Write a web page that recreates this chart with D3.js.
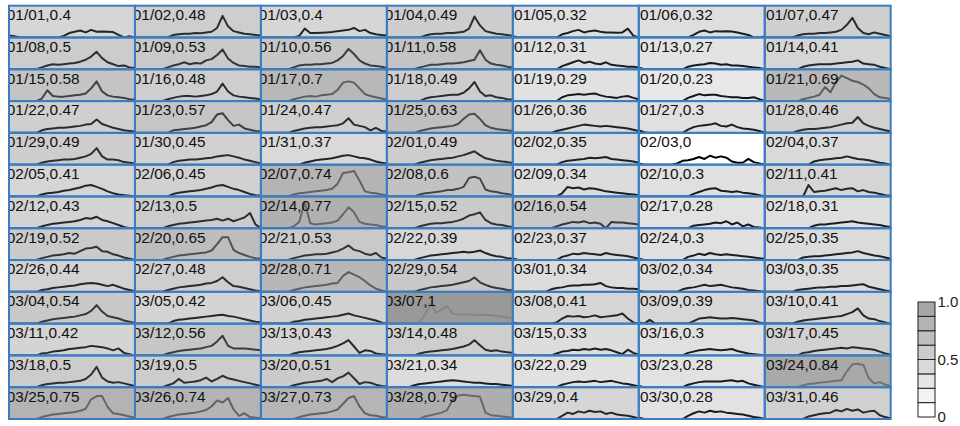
<!DOCTYPE html>
<html>
<head>
<meta charset="utf-8">
<script src="https://cdn.jsdelivr.net/npm/d3@7"></script>
<style>
  body { margin: 0; background: #fff; }
  svg { display: block; }
  text { font-family: "Liberation Sans", Arial, sans-serif; }
</style>
</head>
<body>
<div id="container"></div>
<script>
/* Daily load calendar: 91 small multiples */

var w = 960, h = 426;

var days = [
	"01/01","01/02","01/03","01/04","01/05","01/06","01/07",
	"01/08","01/09","01/10","01/11","01/12","01/13","01/14",
	"01/15","01/16","01/17","01/18","01/19","01/20","01/21",
	"01/22","01/23","01/24","01/25","01/26","01/27","01/28",
	"01/29","01/30","01/31","02/01","02/02","02/03","02/04",
	"02/05","02/06","02/07","02/08","02/09","02/10","02/11",
	"02/12","02/13","02/14","02/15","02/16","02/17","02/18",
	"02/19","02/20","02/21","02/22","02/23","02/24","02/25",
	"02/26","02/27","02/28","02/29","03/01","03/02","03/03",
	"03/04","03/05","03/06","03/07","03/08","03/09","03/10",
	"03/11","03/12","03/13","03/14","03/15","03/16","03/17",
	"03/18","03/19","03/20","03/21","03/22","03/23","03/24",
	"03/25","03/26","03/27","03/28","03/29","03/30","03/31"
];

var dayValues = [
	0.4, 0.48, 0.4, 0.49, 0.32, 0.32, 0.47,
	0.5, 0.53, 0.56, 0.58, 0.31, 0.27, 0.41,
	0.58, 0.48, 0.7, 0.49, 0.29, 0.23, 0.69,
	0.47, 0.57, 0.47, 0.63, 0.36, 0.3, 0.46,
	0.49, 0.45, 0.37, 0.49, 0.35, 0, 0.37,
	0.41, 0.45, 0.74, 0.6, 0.34, 0.3, 0.41,
	0.43, 0.5, 0.77, 0.52, 0.54, 0.28, 0.31,
	0.52, 0.65, 0.53, 0.39, 0.37, 0.3, 0.35,
	0.44, 0.48, 0.71, 0.54, 0.34, 0.34, 0.35,
	0.54, 0.42, 0.45, 1, 0.41, 0.39, 0.41,
	0.42, 0.56, 0.43, 0.48, 0.33, 0.3, 0.45,
	0.5, 0.5, 0.51, 0.34, 0.29, 0.28, 0.84,
	0.75, 0.74, 0.73, 0.79, 0.4, 0.28, 0.46
];

// hourly load per day, % of max (24 readings)
var janProfiles = [
	[6,4,0,0,0,0,0,0,0,0,5,14,18,22,16,24,18,19,18,17,8,0,4,0],
	[0,0,0,0,0,0,0,8,10,12,12,14,13,16,18,30,68,35,20,16,12,10,8,6],
	[0,0,0,0,0,0,0,5,28,14,14,15,16,17,20,22,24,30,20,24,14,10,8,6],
	[0,0,0,0,0,0,0,6,10,12,12,14,14,16,18,28,66,38,20,16,12,10,8,5],
	[4,0,0,0,0,0,0,0,0,10,14,20,24,16,20,22,18,16,16,15,16,28,6,0],
	[0,0,0,0,0,0,0,0,0,0,8,18,22,16,20,19,20,19,16,12,8,0,0,3],
	[0,0,0,0,0,0,6,10,12,12,14,14,16,18,24,40,62,30,14,10,16,12,8,4],
	[0,0,0,0,0,0,6,12,16,14,16,18,20,24,30,40,55,35,22,16,10,12,6,4],
	[0,0,0,0,0,0,6,12,16,22,16,20,18,28,32,45,62,34,20,12,10,8,8,6],
	[0,0,0,0,0,0,6,12,14,14,16,16,18,20,28,42,64,48,28,18,12,10,8,4],
	[0,0,0,0,0,0,6,10,14,14,16,18,18,20,22,26,30,60,30,18,14,12,8,5],
	[0,0,0,0,0,0,0,0,0,10,16,22,28,20,24,18,16,22,14,12,10,8,8,6],
	[5,0,0,0,0,0,0,0,0,8,12,14,16,20,18,14,16,12,12,10,8,6,4,0],
	[0,0,0,0,0,0,0,8,12,14,16,16,16,18,20,22,24,28,18,16,14,8,4,0],
	[0,0,0,0,0,0,8,34,16,14,14,16,18,20,24,40,62,30,18,14,12,10,6,4],
	[0,0,0,0,0,0,6,10,14,16,16,14,16,18,22,30,55,30,18,14,12,10,8,5],
	[0,0,0,0,0,0,6,10,14,16,14,18,20,22,35,58,62,58,40,22,16,12,8,4],
	[0,0,0,0,0,0,0,8,12,14,16,18,20,20,26,40,60,30,16,18,12,10,6,4],
	[0,0,0,0,0,0,0,0,0,12,18,20,22,20,22,24,18,14,12,10,14,16,10,6],
	[0,0,0,0,0,0,0,0,0,10,16,22,18,20,20,16,14,12,12,10,10,12,6,0],
	[0,0,0,0,0,0,0,6,10,14,20,44,28,60,80,72,64,60,52,40,22,12,10,6],
	[0,0,0,0,0,0,8,12,14,16,16,18,20,22,26,28,42,28,22,16,12,8,6,4],
	[0,0,0,0,0,0,0,8,10,12,14,16,20,24,34,58,62,40,22,26,14,10,6,4],
	[0,0,0,0,0,0,6,10,14,16,18,18,20,22,24,30,46,26,22,18,8,16,6,4],
	[0,0,0,0,0,0,6,10,14,16,18,20,22,28,44,58,60,44,24,16,12,10,8,6],
	[0,0,0,0,0,0,0,0,6,10,14,18,22,26,24,22,20,22,20,18,16,14,10,6],
	[8,2,0,0,0,0,0,0,0,10,18,22,24,26,30,22,20,26,18,14,12,10,6,0],
	[0,0,0,0,0,0,6,10,12,12,14,16,18,22,26,30,32,50,30,22,16,12,8,4],
	[0,0,0,0,0,0,6,10,12,14,16,16,18,22,26,34,52,26,16,16,14,8,6,4],
	[0,0,0,0,0,0,0,8,12,14,16,16,18,20,22,26,28,30,26,22,16,12,8,4],
	[0,0,0,0,0,0,0,0,6,10,14,16,18,20,24,28,30,26,22,20,16,10,6,4]
];

var febProfiles = [
	[0,0,0,0,0,0,6,10,14,16,18,20,22,26,30,36,42,30,20,16,12,10,8,5],
	[0,0,0,0,0,0,0,0,0,8,12,14,16,18,22,20,22,24,18,16,14,12,10,6],
	[4,0,0,0,0,0,0,4,12,14,18,24,18,28,22,26,22,10,6,6,18,8,4,0],
	[0,0,0,0,0,0,0,0,0,10,14,16,18,20,22,26,22,18,16,14,10,6,4,0],
	[0,0,0,0,0,0,6,10,12,14,18,20,24,28,34,36,30,24,16,10,6,4,2,0],
	[0,0,0,0,0,0,0,8,12,14,16,18,20,24,28,34,36,30,24,20,14,8,4,2],
	[0,0,0,0,0,0,6,10,12,14,16,18,20,24,40,74,76,80,50,16,12,10,6,4],
	[0,0,0,0,0,0,6,10,12,14,16,20,20,24,30,58,62,56,22,16,14,10,8,4],
	[0,0,0,0,0,0,0,0,0,10,30,26,28,22,26,24,20,16,14,12,10,8,6,4],
	[0,0,0,0,0,0,0,0,0,0,8,14,20,24,26,18,16,14,16,12,10,8,4,0],
	[0,0,0,0,0,0,0,0,36,14,16,18,22,26,20,24,26,16,20,14,12,8,4,2],
	[0,0,0,0,0,0,6,10,14,16,18,20,22,26,32,30,36,26,22,16,10,4,0,0],
	[0,0,0,0,0,0,6,10,14,16,18,20,22,24,26,30,24,30,22,28,34,48,12,0],
	[0,0,0,0,0,0,6,20,82,16,12,14,16,18,24,44,66,50,20,14,12,10,6,4],
	[0,0,0,0,0,0,6,10,14,16,16,18,20,24,30,40,44,50,26,16,12,10,6,4],
	[0,0,0,0,0,0,0,0,6,12,16,20,18,22,16,18,14,0,20,18,18,16,14,12],
	[0,0,0,0,0,0,0,0,0,0,8,10,12,14,18,16,22,12,18,6,12,4,2,0],
	[0,0,0,0,0,0,0,0,0,8,12,12,14,16,18,20,22,18,16,14,12,10,6,4],
	[0,0,0,0,0,0,6,10,14,16,18,22,20,28,36,38,42,28,26,18,14,8,4,0],
	[0,0,0,0,0,0,6,10,14,16,18,20,22,24,30,50,72,72,32,22,16,10,6,4],
	[0,0,0,0,0,0,6,10,14,16,18,18,20,24,28,36,46,32,28,20,16,22,8,4],
	[0,0,0,0,0,0,6,10,14,16,18,20,22,24,26,24,26,30,22,16,12,10,6,4],
	[5,0,0,0,0,0,0,0,0,10,14,20,18,22,20,18,16,22,18,16,14,12,8,4],
	[4,0,0,0,0,0,0,0,0,10,14,20,16,22,18,16,18,16,14,12,10,8,6,4],
	[0,0,0,0,0,0,0,8,10,12,12,14,16,18,20,22,24,28,22,18,14,12,8,4],
	[0,0,0,0,0,0,6,8,12,14,16,18,20,24,26,28,26,22,18,22,16,10,6,2],
	[0,0,0,0,0,0,6,10,14,16,18,20,22,26,28,34,46,30,18,16,12,8,4,2],
	[0,0,0,0,0,0,6,10,14,16,18,20,22,26,28,50,62,54,46,34,20,10,4,0],
	[0,0,0,0,0,0,6,10,14,16,18,20,22,26,30,34,45,30,22,16,12,10,6,4]
];

var marProfiles = [
	[0,0,0,0,0,0,0,8,12,14,18,20,20,22,22,24,28,18,14,12,12,10,10,8],
	[3,0,0,0,0,0,0,0,8,12,14,18,22,18,20,22,18,14,12,10,6,4,2,0],
	[0,0,0,0,0,0,6,8,10,12,14,14,16,16,18,18,20,22,24,16,12,8,4,2],
	[0,0,0,0,0,0,6,10,14,16,18,20,22,26,30,40,58,38,24,20,16,10,6,2],
	[0,0,0,0,0,0,0,8,12,14,16,18,20,22,24,26,28,24,22,18,14,10,6,4],
	[0,0,0,0,0,0,6,8,12,14,16,18,20,22,24,28,32,26,22,18,14,10,4,0],
	[0,0,0,0,0,0,4,30,65,34,44,55,32,28,30,28,28,26,28,26,24,22,20,18],
	[4,0,0,0,0,0,0,0,4,16,24,22,24,20,22,26,20,22,24,26,32,16,4,0],
	[4,0,12,0,0,0,0,0,0,0,8,16,18,20,18,16,16,18,16,14,12,10,4,0],
	[0,0,0,0,0,0,6,10,12,14,16,18,20,22,24,30,36,48,26,16,14,8,4,0],
	[0,0,0,0,0,0,6,8,12,14,16,20,22,24,26,30,28,26,22,16,22,8,4,0],
	[0,0,0,0,0,0,6,10,14,16,18,20,22,26,30,44,62,30,22,22,22,20,18,16],
	[0,0,0,0,0,0,6,10,12,14,16,18,20,24,30,38,48,28,8,16,14,6,4,2],
	[0,0,0,0,0,0,6,10,12,14,16,18,20,24,28,34,48,32,18,14,16,12,10,8],
	[4,0,0,0,0,0,0,0,6,12,14,18,16,20,18,22,18,20,16,10,4,18,8,2],
	[0,0,0,0,0,0,0,0,0,8,12,16,18,20,18,16,18,20,14,10,6,4,2,0],
	[0,0,0,0,0,0,0,8,10,14,16,18,20,22,24,22,26,24,22,20,18,12,6,2],
	[0,0,0,0,0,0,6,10,12,14,14,16,18,20,26,40,64,30,18,14,16,12,8,4],
	[0,0,0,0,0,0,6,12,26,14,16,18,22,30,18,26,36,28,24,20,16,12,8,4],
	[0,0,0,0,0,0,6,10,14,16,18,20,26,16,28,34,46,28,10,16,14,8,4,2],
	[0,0,0,0,0,6,10,12,14,16,18,20,22,20,18,16,14,14,12,10,10,8,6,4],
	[0,0,0,0,0,0,0,0,0,8,12,16,18,16,18,20,16,18,20,16,12,10,6,2],
	[4,0,0,0,0,0,0,0,0,8,12,16,18,18,18,18,20,22,18,20,12,8,4,0],
	[0,0,0,0,0,0,0,6,10,12,14,16,18,20,22,50,72,74,70,28,12,16,8,4],
	[0,0,0,0,0,0,6,10,14,16,18,20,22,26,32,62,72,72,38,18,16,12,8,4],
	[0,0,0,0,0,0,6,10,14,16,18,20,24,28,40,58,52,66,30,10,18,6,4,2],
	[0,0,0,0,0,0,0,6,10,14,16,18,20,24,30,48,66,72,40,18,12,10,6,4],
	[0,0,0,0,0,0,0,8,12,16,20,28,60,74,76,74,72,70,20,12,10,8,6,4],
	[0,0,0,0,0,0,0,0,0,10,20,16,24,20,26,22,24,16,20,14,12,10,6,2],
	[4,0,0,0,0,0,0,0,0,10,18,24,20,26,22,24,20,18,16,14,10,6,4,0],
	[0,0,0,0,0,0,0,0,8,12,16,18,20,28,24,32,26,30,20,24,26,12,6,2]
];

var legendSteps = [0, 0.125, 0.25, 0.375, 0.5, 0.625, 0.75, 0.875];
var legendTicks = [0, 0.5, 1];
var legendLabels = ["0", "0.5", "1.0"];

var profiles = janProfiles.concat(febProfiles, marProfiles);

/* Layout */
var cols = 7, rows = 13;
var grid = {left: 9, top: 5.7, right: 890.7, bottom: 419};

var xBand = d3.scaleBand().domain(d3.range(cols)).range([grid.left, grid.right]),
	yBand = d3.scaleBand().domain(d3.range(rows)).range([grid.top, grid.bottom]);
var cellW = xBand.bandwidth(),
	cellH = yBand.bandwidth();

// background shade and line ink both follow the day value
var shade = d3.scaleLinear().domain([0, 1]).range(['#ffffff', '#999999']),
	ink = d3.scaleLinear().domain([0, 0.5, 0.7, 1]).range(['#000000', '#2e2e2e', '#5e5e5e', '#868686']);

var xLine = d3.scaleLinear().domain([0, 23]).range([0, cellW]),
	yLine = d3.scaleLinear().domain([0, 100]).range([cellH, 0]);

var loadLine = d3.line()
	.x((d, i) => xLine(i))
	.y(d => yLine(d));

var svg = d3.select('#container').append('svg')
	.attr('width', w)
	.attr('height', h);

var data = days.map((d, i) => ({
	day: d,
	value: dayValues[i],
	profile: profiles[i],
	col: i % cols,
	row: Math.floor(i / cols)
}));

/* Cells - nested svg so each one clips its own content */
var cells = svg.selectAll('svg.cell')
	.data(data)
	.enter().append('svg')
	.classed('cell', true)
	.attr('x', d => xBand(d.col))
	.attr('y', d => yBand(d.row))
	.attr('width', cellW)
	.attr('height', cellH);

cells.append('rect')
	.attr('width', cellW)
	.attr('height', cellH)
	.attr('fill', d => shade(d.value));

cells.append('path')
	.attr('d', d => loadLine(d.profile))
	.attr('fill', 'none')
	.attr('stroke', d => ink(d.value))
	.attr('stroke-width', 2)
	.attr('stroke-linejoin', 'round');

cells.append('text')
	.attr('x', d => d.col < 4 ? -2.2 : 1.2)
	.attr('y', 14.3)
	.attr('font-size', '15.4px')
	.attr('fill', '#111')
	.text(d => d.day + ',' + d.value);

/* Borders on top */
svg.append('g')
	.selectAll('rect')
	.data(data)
	.enter().append('rect')
	.attr('x', d => xBand(d.col))
	.attr('y', d => yBand(d.row))
	.attr('width', cellW)
	.attr('height', cellH)
	.attr('fill', 'none')
	.attr('stroke', '#3b7dc1')
	.attr('stroke-width', 2);

/* Legend */
var legendY = d3.scaleLinear().domain([0, 1]).range([417, 302]);
var legend = svg.append('g').attr('transform', 'translate(918,0)');

legend.selectAll('rect')
	.data(legendSteps)
	.enter().append('rect')
	.attr('x', 0)
	.attr('y', d => legendY(d + 0.125))
	.attr('width', 17)
	.attr('height', d => legendY(d) - legendY(d + 0.125))
	.attr('fill', d => shade(d))
	.attr('stroke', '#222')
	.attr('stroke-width', 1);

legend.selectAll('text')
	.data(legendTicks)
	.enter().append('text')
	.attr('x', 19.5)
	.attr('y', d => legendY(d))
	.attr('dy', '0.36em')
	.attr('font-size', '15px')
	.attr('fill', '#222')
	.text((d, i) => legendLabels[i]);
</script>
</body>
</html>
